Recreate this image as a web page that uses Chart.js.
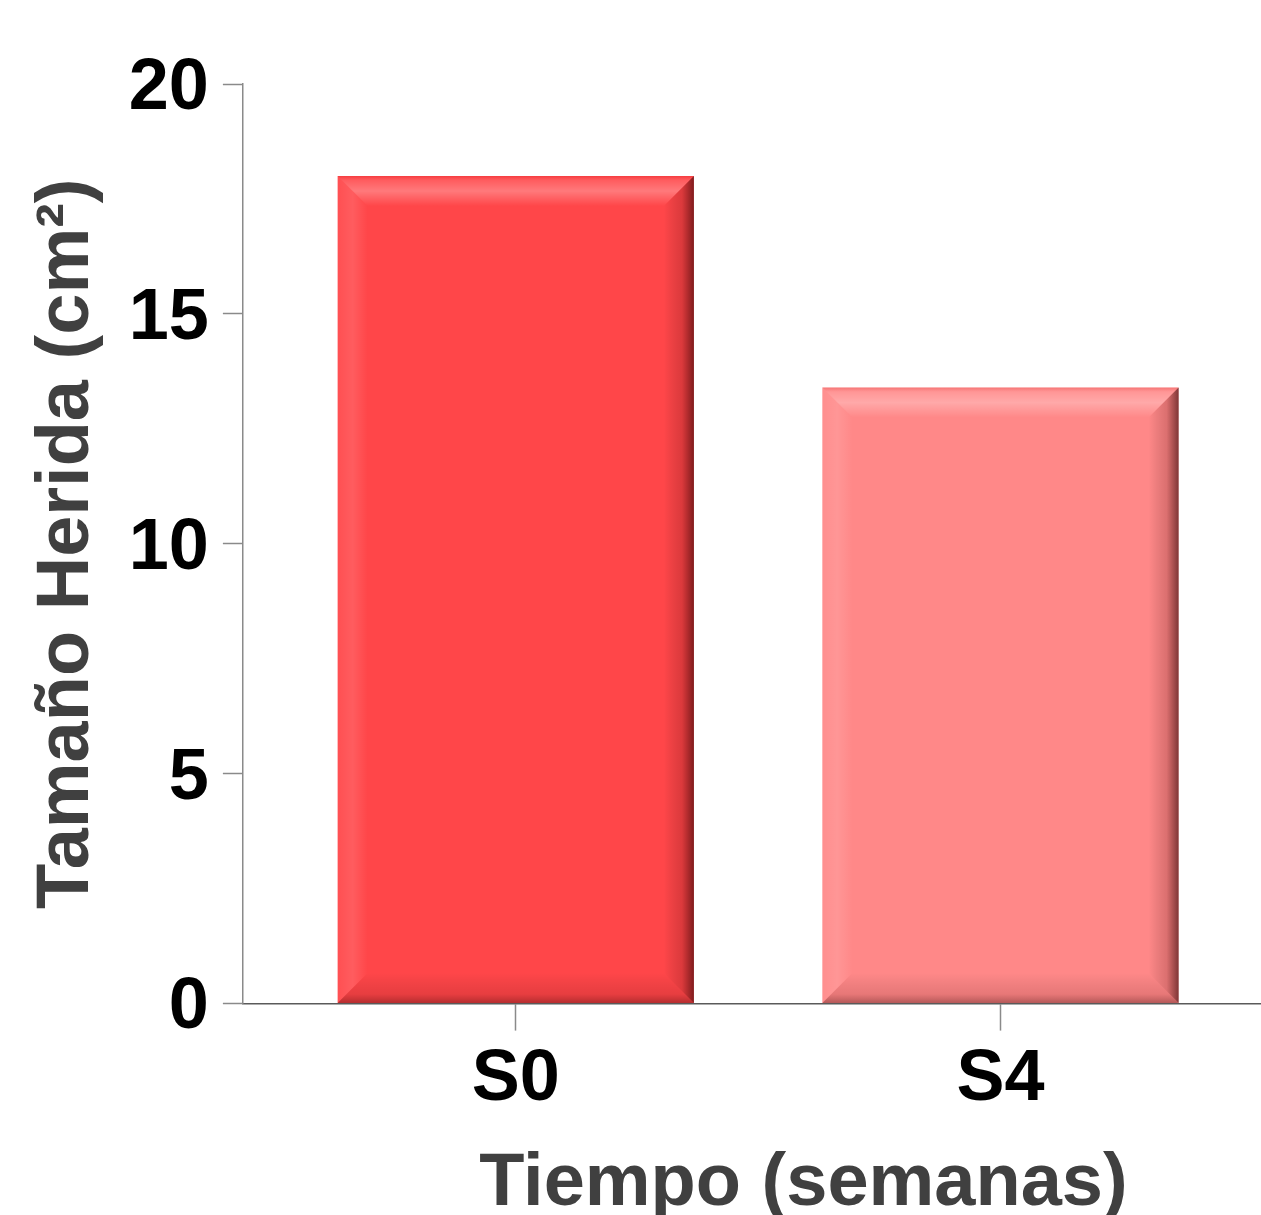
<!DOCTYPE html>
<html>
<head>
<meta charset="utf-8">
<script src="https://cdn.jsdelivr.net/npm/chart.js@4"></script>
<style>
  html, body { margin: 0; padding: 0; background: #fff; overflow: hidden; }
  canvas { display: block; }
</style>
</head>
<body>
<canvas id="woundChart" width="1364" height="1215"></canvas>
<script>
const categories = ['S0', 'S4'];
const woundSize = [18, 13.4];
const barColors = ['#ff4649', '#ff8888'];
const yTicks = [0, 5, 10, 15, 20];

const FONT = "'Liberation Sans', Arial, sans-serif";

// bevelled look on each bar (light top, dark right/bottom)
const bevelPlugin = {
  id: 'bevel',
  afterDatasetsDraw(chart) {
    const ctx = chart.ctx;
    chart.getDatasetMeta(0).data.forEach(bar => {
      const { x, y, base, width } = bar.getProps(['x', 'y', 'base', 'width'], true);
      const l = x - width / 2, r = x + width / 2, t = y, b = base;
      const s = 30;
      ctx.save();

      let g = ctx.createLinearGradient(0, t, 0, t + s);
      g.addColorStop(0, 'rgba(190,0,0,0.15)');
      g.addColorStop(0.15, 'rgba(255,255,255,0.12)');
      g.addColorStop(0.5, 'rgba(255,255,255,0.28)');
      g.addColorStop(1, 'rgba(255,255,255,0)');
      ctx.fillStyle = g;
      ctx.beginPath();
      ctx.moveTo(l, t); ctx.lineTo(r, t); ctx.lineTo(r - s, t + s); ctx.lineTo(l + s, t + s);
      ctx.closePath(); ctx.fill();

      g = ctx.createLinearGradient(l, 0, l + s, 0);
      g.addColorStop(0, 'rgba(255,255,255,0.05)');
      g.addColorStop(0.5, 'rgba(255,255,255,0.12)');
      g.addColorStop(1, 'rgba(255,255,255,0)');
      ctx.fillStyle = g;
      ctx.beginPath();
      ctx.moveTo(l, t); ctx.lineTo(l + s, t + s); ctx.lineTo(l + s, b - s); ctx.lineTo(l, b);
      ctx.closePath(); ctx.fill();

      g = ctx.createLinearGradient(r - s, 0, r, 0);
      g.addColorStop(0, 'rgba(0,0,0,0)');
      g.addColorStop(0.6, 'rgba(60,0,0,0.18)');
      g.addColorStop(1, 'rgba(40,0,0,0.6)');
      ctx.fillStyle = g;
      ctx.beginPath();
      ctx.moveTo(r, t); ctx.lineTo(r, b); ctx.lineTo(r - s, b - s); ctx.lineTo(r - s, t + s);
      ctx.closePath(); ctx.fill();

      g = ctx.createLinearGradient(0, b - s, 0, b);
      g.addColorStop(0, 'rgba(0,0,0,0)');
      g.addColorStop(0.7, 'rgba(60,0,0,0.12)');
      g.addColorStop(1, 'rgba(40,0,0,0.35)');
      ctx.fillStyle = g;
      ctx.beginPath();
      ctx.moveTo(l, b); ctx.lineTo(r, b); ctx.lineTo(r - s, b - s); ctx.lineTo(l + s, b - s);
      ctx.closePath(); ctx.fill();

      ctx.restore();
    });
  }
};

new Chart(document.getElementById('woundChart'), {
  type: 'bar',
  data: {
    datasets: [{
      data: woundSize.map((v, i) => ({ x: i, y: v })),
      backgroundColor: barColors,
      borderWidth: 0,
      barPercentage: 0.735,
      categoryPercentage: 1
    }]
  },
  options: {
    responsive: false,
    animation: false,
    layout: { padding: { top: 84, left: 0, right: 0, bottom: 0 } },
    plugins: { legend: { display: false }, tooltip: { enabled: false } },
    scales: {
      x: {
        type: 'linear',
        offset: false,
        min: -0.563,
        max: 1.75,
        afterBuildTicks: scale => { scale.ticks = categories.map((c, i) => ({ value: i })); },
        ticks: {
          callback: v => categories[v],
          color: '#000',
          font: { family: FONT, size: 72, weight: 'bold' },
          padding: 6,
          maxRotation: 0
        },
        grid: { offset: false, drawOnChartArea: false, tickLength: 27, tickColor: '#8a8a8a', tickWidth: 1.5 },
        border: { color: '#5a5a5a', width: 1.5 },
        title: {
          display: true,
          text: 'Tiempo (semanas)',
          color: '#404040',
          font: { family: FONT, size: 74, weight: 'bold', lineHeight: 1 },
          padding: { top: 19, bottom: -7 }
        }
      },
      y: {
        min: 0,
        max: 20,
        afterBuildTicks: scale => { scale.ticks = yTicks.map(v => ({ value: v })); },
        ticks: {
          color: '#000',
          font: { family: FONT, size: 72, weight: 'bold' },
          padding: 14,
          labelOffset: 5
        },
        grid: { drawOnChartArea: false, tickLength: 20, tickColor: '#8a8a8a', tickWidth: 1.5 },
        border: { color: '#8a8a8a', width: 1.5 },
        title: {
          display: true,
          text: 'Tamaño Herida (cm²)',
          color: '#404040',
          font: { family: FONT, size: 74, weight: 'bold' },
          padding: { top: 23, bottom: 3 }
        }
      }
    }
  },
  plugins: [bevelPlugin]
});
</script>
</body>
</html>
